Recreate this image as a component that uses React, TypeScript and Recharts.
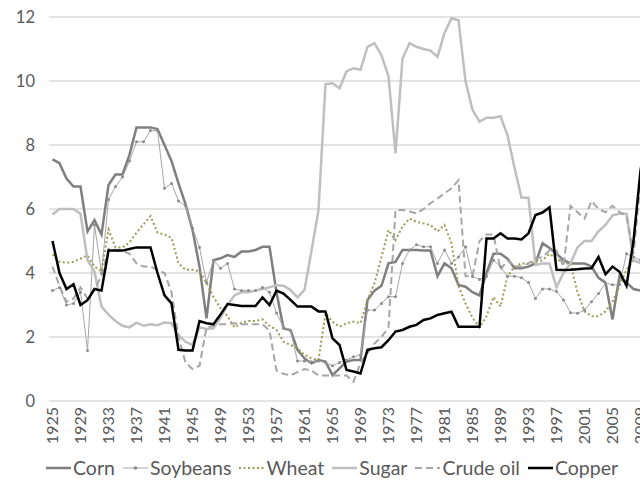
import { LineChart, Line, XAxis, YAxis, CartesianGrid } from "recharts";

// years shown on the category axis (the picture is cut off after 2009)
const YEARS = Array.from({ length: 86 }, (_, i) => 1925 + i);
const X_TICKS = YEARS.filter((y) => (y - 1925) % 4 === 0);
const Y_TICKS = [0, 2, 4, 6, 8, 10, 12];

// values, one per year 1925..2010
const CORN = [
  7.55, 7.43, 6.95, 6.7, 6.7, 5.3, 5.65, 5.2, 6.75, 7.08,
  7.08, 7.7, 8.55, 8.55, 8.55, 8.5, 8.0, 7.5, 6.8, 6.15,
  5.35, 4.2, 2.58, 4.4, 4.46, 4.56, 4.5, 4.67, 4.67, 4.72,
  4.82, 4.82, 3.4, 2.27, 2.22, 1.6, 1.33, 1.18, 1.28, 1.23,
  0.81, 1.02, 1.23, 1.28, 1.28, 3.16, 3.45, 3.6, 4.3, 4.35,
  4.72, 4.72, 4.72, 4.7, 4.7, 3.9, 4.3, 4.15, 3.63, 3.57,
  3.4, 3.3, 4.0, 4.6, 4.6, 4.45, 4.15, 4.15, 4.2, 4.3,
  4.93, 4.78, 4.6, 4.4, 4.3, 4.3, 4.3, 4.2, 3.85, 3.7,
  2.55, 3.9, 3.7, 3.5, 3.45, 3.4,
];
const SOYBEANS = [
  3.45, 3.55, 3.0, 3.05, 3.4, 1.58, 5.5, 4.0, 6.3, 6.7,
  7.0, 7.5, 8.1, 8.1, 8.45, 8.45, 6.65, 6.8, 6.25, 6.1,
  5.4, 4.8, 3.7, 4.4, 4.15, 4.3, 3.5, 3.45, 3.45, 3.45,
  3.55, 3.4, 2.75, 2.3, 2.2, 1.25, 1.25, 1.23, 1.25, 1.2,
  1.1, 1.2, 1.28, 1.38, 1.44, 2.84, 2.84, 3.05, 3.26, 3.26,
  4.3, 4.72, 4.88, 4.82, 4.82, 4.3, 4.72, 4.3, 4.5, 4.82,
  3.89, 3.8, 3.9, 4.4, 4.2, 3.9, 3.9, 3.85, 3.7, 3.2,
  3.5, 3.5, 3.42, 3.16, 2.76, 2.74, 2.84, 3.1, 3.36, 3.68,
  3.63, 3.63, 4.6, 4.5, 4.4, 4.3,
];
const WHEAT = [
  4.58, 4.35, 4.32, 4.35, 4.45, 4.55, 4.2, 4.05, 5.36, 4.8,
  4.8, 4.95, 5.26, 5.52, 5.78, 5.26, 5.2, 5.1, 4.3, 4.1,
  4.1, 4.05, 3.7, 3.25, 2.9, 2.65, 2.3, 2.45, 2.5, 2.5,
  2.55, 2.35, 2.22, 1.85, 1.75, 1.65, 1.44, 1.33, 1.28, 2.74,
  2.48, 2.32, 2.43, 2.48, 2.43, 3.16, 3.68, 4.5, 5.34, 5.03,
  5.45, 5.7, 5.6, 5.55, 5.5, 5.3, 5.5, 4.93, 3.6, 3.05,
  2.6, 2.3, 2.65, 3.25, 2.95, 3.9, 4.2, 4.3, 4.3, 4.35,
  4.4, 4.6, 4.45, 4.3, 4.3, 3.4, 2.8, 2.65, 2.65, 2.8,
  3.1, 3.6, 4.1, 4.4, 4.3, 4.3,
];
const SUGAR = [
  5.83, 6.0, 6.0, 6.0, 5.85, 4.4, 4.05, 2.95, 2.7, 2.5,
  2.35, 2.3, 2.45, 2.35, 2.4, 2.37, 2.45, 2.43, 2.06, 1.85,
  1.75, 2.3, 2.25, 2.27, 2.6, 3.0, 3.3, 3.4, 3.4, 3.45,
  3.5, 3.55, 3.62, 3.6, 3.47, 3.24, 3.47, 4.7, 5.97, 9.9,
  9.93, 9.77, 10.3, 10.4, 10.35, 11.07, 11.18, 10.8, 10.15, 7.74,
  10.7, 11.18, 11.07, 11.0, 10.95, 10.76, 11.5, 11.96, 11.9, 10.0,
  9.1, 8.73, 8.85, 8.85, 8.9, 8.3, 7.3, 6.35, 6.35, 4.25,
  4.3, 4.3, 3.55, 4.0, 4.3, 4.8, 5.0, 5.0, 5.3, 5.5,
  5.8, 5.85, 5.85, 4.4, 4.3, 4.3,
];
const CRUDE_OIL = [
  4.2, 3.6, 3.1, 3.2, 3.55, 3.2, 3.5, 3.9, 4.75, 4.7,
  4.7, 4.6, 4.3, 4.2, 4.2, 4.1, 4.0, 3.4, 2.0, 1.2,
  1.0, 1.1, 2.3, 2.35, 2.4, 2.4, 2.43, 2.4, 2.4, 2.4,
  2.4, 2.2, 0.95, 0.85, 0.8, 0.9, 1.0, 0.95, 0.8, 0.8,
  0.8, 0.8, 0.8, 0.6, 1.2, 1.5, 1.8, 2.0, 2.3, 5.97,
  5.97, 5.92, 5.86, 6.0, 6.18, 6.33, 6.49, 6.65, 6.9, 3.9,
  3.9, 5.0, 5.2, 5.2, 4.1, 4.4, 4.2, 4.2, 4.3, 4.45,
  4.5, 4.7, 4.7, 4.2, 6.1, 5.9, 5.7, 6.25, 6.0, 5.9,
  6.1, 5.9, 5.8, 4.6, 6.8, 6.8,
];
const COPPER = [
  5.0, 4.0, 3.5, 3.65, 3.0, 3.15, 3.5, 3.45, 4.7, 4.7,
  4.7, 4.75, 4.8, 4.8, 4.8, 4.0, 3.3, 3.05, 1.6, 1.58,
  1.58, 2.5, 2.43, 2.4, 2.7, 3.03, 3.0, 2.97, 2.97, 2.97,
  3.24, 3.0, 3.45, 3.36, 3.16, 2.95, 2.95, 2.95, 2.8, 2.8,
  1.96, 1.75, 0.97, 0.92, 0.86, 1.6, 1.65, 1.68, 1.9, 2.17,
  2.22, 2.32, 2.38, 2.53, 2.58, 2.69, 2.74, 2.79, 2.32, 2.32,
  2.32, 2.32, 5.08, 5.08, 5.24, 5.08, 5.08, 5.05, 5.24, 5.81,
  5.89, 6.05, 4.1, 4.09, 4.1, 4.12, 4.14, 4.15, 4.5, 3.96,
  4.2, 4.04, 3.6, 5.0, 7.2, 8.5,
];

const FONT = "Lato, 'Open Sans', sans-serif";
const TEXT = "#595959";

const SERIES = [
  { key: "corn", name: "Corn", values: CORN, color: "#7f7f7f", width: 2.5, dash: undefined, dot: false },
  { key: "soybeans", name: "Soybeans", values: SOYBEANS, color: "#a6a6a6", width: 1, dash: undefined, dot: true },
  { key: "wheat", name: "Wheat", values: WHEAT, color: "#9d9a58", width: 2, dash: "2 2.5", dot: false },
  { key: "sugar", name: "Sugar", values: SUGAR, color: "#bfbfbf", width: 2.5, dash: undefined, dot: false },
  { key: "crude", name: "Crude oil", values: CRUDE_OIL, color: "#a6a6a6", width: 2, dash: "7 4", dot: false },
  { key: "copper", name: "Copper", values: COPPER, color: "#000000", width: 2.5, dash: undefined, dot: false },
];

const data = YEARS.map((year, i) => {
  const row: Record<string, number> = { year };
  SERIES.forEach((s) => {
    row[s.key] = s.values[i];
  });
  return row;
});

function YearTick({ x, y, payload }: any) {
  return (
    <text
      x={x}
      y={y}
      transform={`rotate(-90 ${x} ${y})`}
      textAnchor="end"
      dy="0.35em"
      fill={TEXT}
      fontSize={16}
      fontFamily={FONT}
    >
      {payload.value}
    </text>
  );
}

function LegendRow() {
  return (
    <div
      style={{
        position: "absolute",
        left: 46,
        top: 456,
        display: "flex",
        alignItems: "center",
        gap: 8,
        fontFamily: FONT,
        fontSize: 19.5,
        color: TEXT,
        whiteSpace: "nowrap",
      }}
    >
      {SERIES.map((s) => (
        <div key={s.key} style={{ display: "flex", alignItems: "center", gap: 2 }}>
          <svg width={25} height={12}>
            <line x1={0} y1={6} x2={25} y2={6} stroke={s.color} strokeWidth={s.width} strokeDasharray={s.dash} />
            {s.dot && <circle cx={12.5} cy={6} r={1.8} fill="#8c8c8c" />}
          </svg>
          <span>{s.name}</span>
        </div>
      ))}
    </div>
  );
}

export default function App() {
  return (
    <div
      style={{
        position: "absolute",
        left: 0,
        top: 0,
        width: 640,
        height: 481,
        overflow: "hidden",
        background: "#fff",
      }}
    >
      <LineChart width={655} height={481} data={data} margin={{ top: 17, right: 4, left: 9, bottom: 36 }}>
        <CartesianGrid vertical={false} stroke="#c8c8c8" />
        <XAxis
          dataKey="year"
          type="number"
          domain={[1924.5, 2010.5]}
          ticks={X_TICKS}
          interval={0}
          axisLine={false}
          tickLine={false}
          tickSize={0}
          tickMargin={6}
          height={44}
          tick={<YearTick />}
          allowDataOverflow
        />
        <YAxis
          domain={[0, 12]}
          ticks={Y_TICKS}
          width={40}
          axisLine={false}
          tickLine={false}
          tickSize={0}
          tickMargin={14}
          tick={{ fill: TEXT, fontSize: 16.5, fontFamily: FONT }}
        />
        {SERIES.map((s) => (
          <Line
            key={s.key}
            dataKey={s.key}
            name={s.name}
            type="linear"
            stroke={s.color}
            strokeWidth={s.width}
            strokeDasharray={s.dash}
            dot={s.dot ? { r: 1.5, fill: "#8c8c8c", stroke: "none" } : false}
            activeDot={false}
            isAnimationActive={false}
          />
        ))}
      </LineChart>
      <LegendRow />
    </div>
  );
}
